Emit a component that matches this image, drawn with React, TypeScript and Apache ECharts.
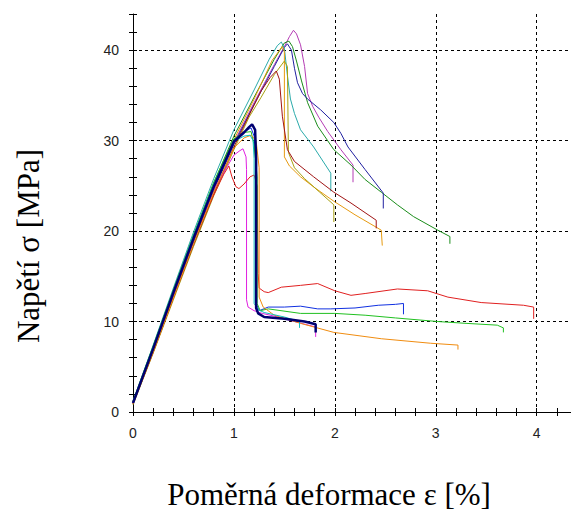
import React, { useEffect, useRef } from "react";
import * as echarts from "echarts";

// Tick labels
const xTickValues = [0, 1, 2, 3, 4];
const yTickValues = [0, 10, 20, 30, 40];

// Specimens with peak ~40 MPa (gradual softening)
const specPurple = [[0, 1.0], [0.2, 6.8], [0.4, 12.9], [0.6, 18.9], [0.8, 24.6], [1.0, 29.8], [1.2, 34.2], [1.4, 38.4], [1.5, 40.4], [1.55, 41.5], [1.59, 42.2], [1.62, 41.8], [1.66, 40.6], [1.7, 38.2], [1.73, 35.2], [1.78, 33.8], [1.84, 32.6], [1.93, 31.0], [2.06, 29.0], [2.18, 27.3], [2.18, 25.4]];
const specGreen = [[0, 1.1], [0.2, 7.2], [0.4, 13.4], [0.6, 19.5], [0.8, 25.3], [1.0, 30.5], [1.2, 34.8], [1.4, 39.0], [1.5, 40.8], [1.545, 41.0], [1.58, 40.4], [1.62, 38.8], [1.67, 36.6], [1.73, 34.2], [1.83, 31.6], [1.99, 29.0], [2.16, 27.3], [2.3, 25.7], [2.46, 24.3], [2.62, 22.9], [2.78, 21.6], [3.02, 20.1], [3.14, 19.4], [3.14, 18.6]];
const specNavy = [[0, 0.9], [0.2, 6.7], [0.4, 12.8], [0.6, 18.8], [0.8, 24.5], [1.0, 29.6], [1.2, 34.0], [1.4, 38.2], [1.5, 40.3], [1.53, 40.7], [1.57, 40.0], [1.6, 38.0], [1.63, 36.4], [1.68, 35.2], [1.73, 34.6], [1.86, 33.4], [1.99, 32.0], [2.06, 30.8], [2.13, 29.3], [2.3, 26.8], [2.48, 24.2], [2.48, 22.5]];
const specTeal = [[0, 1.2], [0.2, 7.4], [0.4, 13.7], [0.6, 19.9], [0.8, 25.8], [1.0, 31.2], [1.2, 35.6], [1.35, 39.0], [1.43, 40.5], [1.47, 40.9], [1.5, 40.2], [1.53, 37.2], [1.56, 34.6], [1.6, 33.0], [1.66, 31.2], [1.79, 29.3], [1.96, 26.4], [1.96, 24.4]];
const specGold = [[0, 1.0], [0.2, 7.0], [0.4, 13.1], [0.6, 19.1], [0.8, 24.9], [1.0, 30.1], [1.2, 34.6], [1.38, 38.9], [1.48, 40.4], [1.5, 39.8], [1.5, 28.2], [1.55, 27.2], [1.66, 26.0], [1.8, 24.8], [1.99, 23.3], [2.2, 21.8], [2.46, 20.1], [2.47, 18.4]];
const specOlive = [[0, 0.8], [0.2, 6.5], [0.4, 12.4], [0.6, 18.3], [0.8, 23.9], [1.0, 29.0], [1.15, 32.6], [1.27, 34.8], [1.4, 37.3], [1.5, 38.8], [1.53, 38.2], [1.54, 28.7], [1.6, 27.0], [1.7, 25.8], [1.85, 24.3], [1.99, 22.9], [1.99, 21.0]];
const specMaroon = [[0, 0.9], [0.2, 6.6], [0.4, 12.6], [0.6, 18.5], [0.8, 24.1], [1.0, 29.3], [1.15, 32.8], [1.27, 35.5], [1.36, 37.0], [1.42, 37.7], [1.45, 36.8], [1.48, 32.7], [1.53, 29.0], [1.6, 27.7], [1.79, 26.0], [1.99, 24.3], [2.16, 23.1], [2.41, 21.2], [2.41, 20.3]];

// Specimens with peak ~30 MPa (sudden drop to plateau)
const specMagenta = [[0, 1.0], [0.2, 6.9], [0.4, 13.0], [0.6, 19.0], [0.8, 24.6], [1.0, 28.4], [1.06, 28.9], [1.09, 29.1], [1.12, 28.2], [1.125, 26.8], [1.125, 12.4], [1.14, 11.6], [1.2, 11.2], [1.28, 10.9], [1.4, 10.6], [1.6, 10.0], [1.81, 9.4], [1.81, 8.3]];
const specRed = [[0, 1.1], [0.2, 7.0], [0.4, 13.0], [0.6, 19.0], [0.8, 24.0], [0.9, 26.3], [0.95, 27.2], [0.98, 26.0], [1.02, 24.9], [1.05, 24.7], [1.1, 25.2], [1.16, 26.0], [1.2, 26.2], [1.23, 25.0], [1.24, 15.3], [1.25, 13.7], [1.3, 13.3], [1.34, 13.2], [1.47, 13.8], [1.66, 14.0], [1.83, 14.2], [2.0, 13.4], [2.16, 12.9], [2.3, 13.1], [2.62, 13.6], [2.92, 13.4], [3.12, 12.7], [3.45, 12.1], [3.87, 11.8], [3.97, 11.6], [3.97, 10.3]];
const specBlue = [[0, 1.0], [0.2, 7.1], [0.4, 13.3], [0.6, 19.4], [0.8, 25.1], [1.0, 30.0], [1.1, 31.0], [1.17, 31.4], [1.2, 30.5], [1.22, 27.0], [1.22, 12.0], [1.25, 11.2], [1.34, 11.6], [1.5, 11.6], [1.66, 11.7], [1.83, 11.4], [1.96, 11.4], [2.2, 11.5], [2.43, 11.8], [2.6, 11.9], [2.68, 12.0], [2.68, 10.8]];
const specLime = [[0, 1.2], [0.2, 7.3], [0.4, 13.5], [0.6, 19.6], [0.8, 25.4], [1.0, 30.2], [1.1, 30.9], [1.17, 31.0], [1.2, 29.5], [1.23, 26.0], [1.23, 12.0], [1.26, 11.2], [1.34, 11.4], [1.66, 10.9], [2.0, 10.9], [2.3, 10.7], [2.6, 10.4], [3.02, 10.0], [3.3, 9.8], [3.61, 9.6], [3.67, 9.3], [3.67, 8.8]];
const specOrange = [[0, 0.9], [0.2, 6.6], [0.4, 12.6], [0.6, 18.6], [0.8, 24.3], [1.0, 29.2], [1.1, 30.3], [1.17, 30.6], [1.22, 30.0], [1.25, 27.0], [1.25, 12.7], [1.29, 11.6], [1.4, 10.7], [1.66, 9.8], [1.99, 8.8], [2.46, 8.1], [2.95, 7.6], [3.22, 7.4], [3.22, 6.9]];
const specCyan = [[0, 1.1], [0.2, 7.2], [0.4, 13.4], [0.6, 19.5], [0.8, 25.2], [1.0, 29.9], [1.1, 30.5], [1.16, 30.6], [1.19, 30.0], [1.2, 28.0], [1.2, 12.0], [1.24, 11.3], [1.3, 11.0], [1.5, 10.5], [1.65, 10.0], [1.65, 9.3]];
const specThick = [[0, 1.0], [0.2, 7.0], [0.4, 13.2], [0.6, 19.2], [0.8, 24.9], [1.0, 29.9], [1.1, 30.9], [1.15, 31.5], [1.18, 31.8], [1.21, 31.2], [1.22, 28.0], [1.22, 11.5], [1.24, 10.9], [1.3, 10.5], [1.5, 10.3], [1.7, 10.0], [1.81, 9.7], [1.81, 8.8]];

const seriesDefs = [
  { name: "A1", data: specPurple, color: "#B43CB4", width: 1 },
  { name: "A2", data: specGreen, color: "#1A8C1A", width: 1 },
  { name: "A3", data: specNavy, color: "#2020A0", width: 1 },
  { name: "A4", data: specTeal, color: "#2AAAAA", width: 1 },
  { name: "A5", data: specGold, color: "#E69A10", width: 1 },
  { name: "A6", data: specOlive, color: "#A8A010", width: 1 },
  { name: "A7", data: specMaroon, color: "#A01414", width: 1 },
  { name: "B1", data: specMagenta, color: "#E020E0", width: 1 },
  { name: "B2", data: specRed, color: "#E02020", width: 1 },
  { name: "B3", data: specBlue, color: "#1030E0", width: 1 },
  { name: "B4", data: specLime, color: "#20C020", width: 1 },
  { name: "B5", data: specOrange, color: "#F08C10", width: 1 },
  { name: "B6", data: specCyan, color: "#10C0C0", width: 1 },
  { name: "B7", data: specThick, color: "#000070", width: 2.5 },
];

const X_MAX = 4.34;
const Y_MAX = 44;

export default function App() {
  const ref = useRef<HTMLDivElement>(null);
  useEffect(() => {
    if (!ref.current) return;
    const chart = echarts.init(ref.current, undefined, { renderer: "svg" });
    const labelFont = { fontFamily: "Liberation Sans", fontSize: 14, color: "#222" };
    const tickAxisX = (inside: boolean) => ({
      type: "value", position: "bottom", min: 0, max: X_MAX, interval: 0.2,
      axisLine: { show: false }, axisLabel: { show: false }, splitLine: { show: false },
      axisTick: { show: true, inside, length: 4, lineStyle: { color: "#000", width: 1 } },
    });
    const tickAxisY = (inside: boolean) => ({
      type: "value", position: "left", min: 0, max: Y_MAX, interval: 2,
      axisLine: { show: false }, axisLabel: { show: false }, splitLine: { show: false },
      axisTick: { show: true, inside, length: 4, lineStyle: { color: "#000", width: 1 } },
    });
    chart.setOption({
      animation: false,
      backgroundColor: "#fff",
      grid: { left: 133, right: 0, top: 14, bottom: 100, containLabel: false },
      xAxis: [
        {
          type: "value", position: "bottom", min: 0, max: X_MAX, interval: 1,
          axisLine: { show: true, lineStyle: { color: "#000", width: 1 } },
          axisTick: { show: false },
          axisLabel: {
            ...labelFont, margin: 14, showMaxLabel: false,
            formatter: (v: number) => (xTickValues.includes(v) ? String(v) : ""),
          },
          splitLine: { show: true, lineStyle: { color: "#000", type: [3, 3], width: 1 } },
        },
        tickAxisX(false),
        tickAxisX(true),
      ],
      yAxis: [
        {
          type: "value", position: "left", min: 0, max: Y_MAX, interval: 10,
          axisLine: { show: true, lineStyle: { color: "#000", width: 1 } },
          axisTick: { show: false },
          axisLabel: {
            ...labelFont, margin: 14, showMaxLabel: false,
            formatter: (v: number) => (yTickValues.includes(v) ? String(v) : ""),
          },
          splitLine: { show: true, showMaxLine: false, lineStyle: { color: "#000", type: [3, 3], width: 1 } },
        },
        tickAxisY(false),
        tickAxisY(true),
      ],
      series: seriesDefs.map((s) => ({
        type: "line",
        name: s.name,
        xAxisIndex: 0,
        yAxisIndex: 0,
        data: s.data,
        showSymbol: false,
        symbol: "none",
        lineStyle: { color: s.color, width: s.width },
        itemStyle: { color: s.color },
      })),
      graphic: [
        {
          type: "text", x: 28, y: 246, rotation: Math.PI / 2,
          style: {
            text: "Napětí σ [MPa]", font: '31px "Liberation Serif"', fill: "#000",
            align: "center", verticalAlign: "middle",
          },
        },
        {
          type: "text", x: 329, y: 494,
          style: {
            text: "Poměrná deformace ε [%]", font: '31px "Liberation Serif"', fill: "#000",
            align: "center", verticalAlign: "middle",
          },
        },
      ],
    });
    return () => chart.dispose();
  }, []);
  return <div ref={ref} style={{ position: "absolute", left: 0, top: 0, width: 571, height: 512 }} />;
}
